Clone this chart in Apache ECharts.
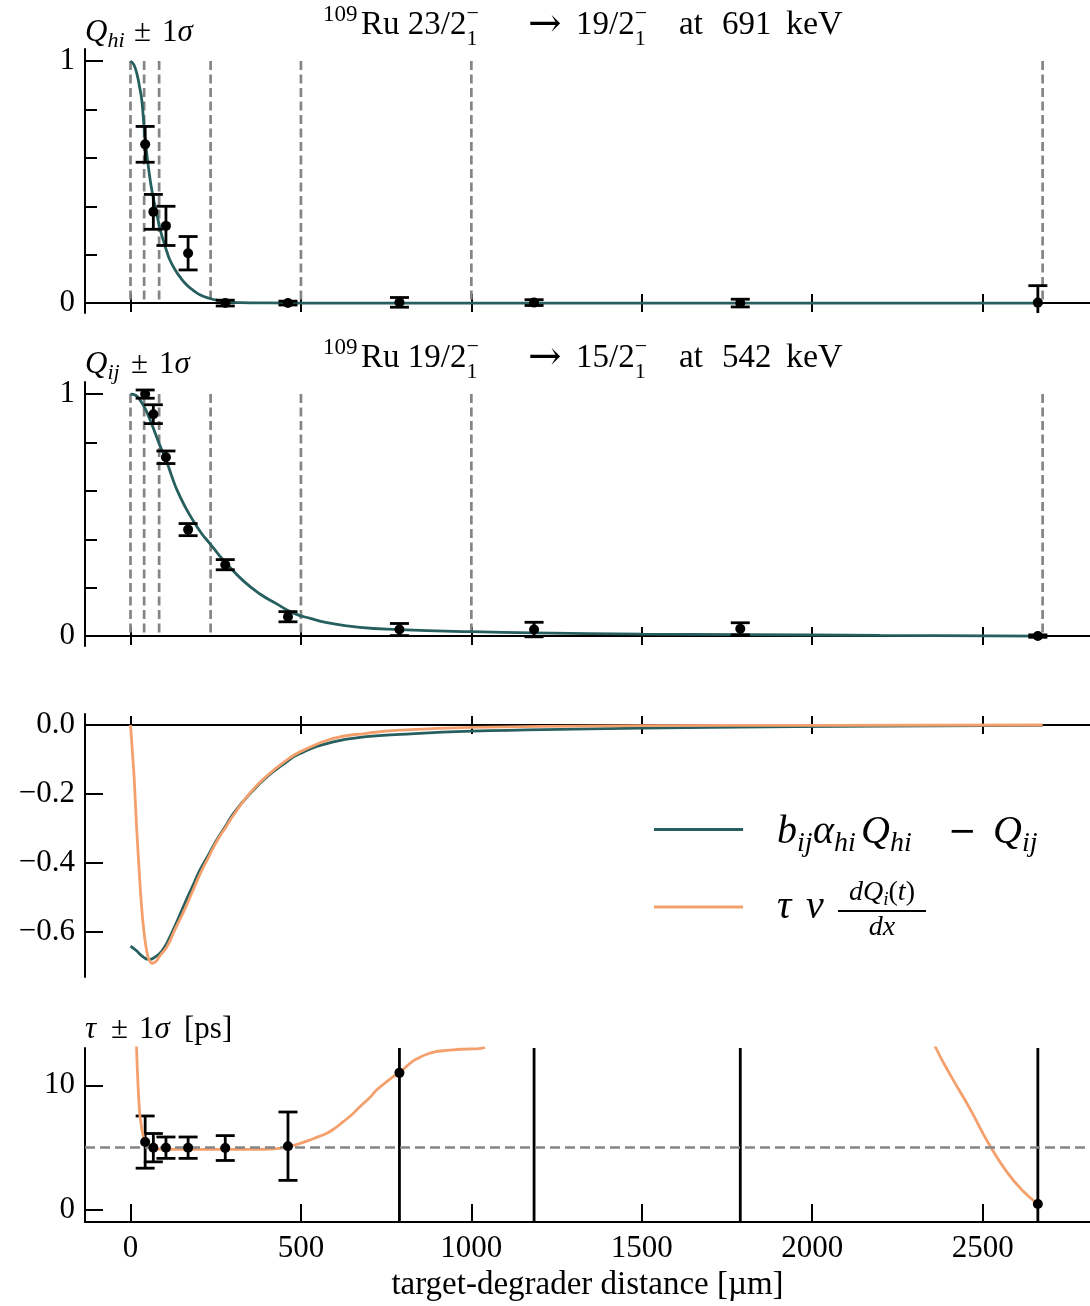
<!DOCTYPE html>
<html><head><meta charset="utf-8">
<script src="https://cdn.jsdelivr.net/npm/echarts@6/dist/echarts.min.js"></script>
<style>html,body{margin:0;padding:0;background:#fff}#c{width:1090px;height:1306px}</style>
</head><body><div id="c"></div>
<script>
// ---------------- data ----------------
const distances = [43, 67, 104, 169, 278, 462, 789, 1184, 1789, 2662];
const qhiValues = [0.656, 0.377, 0.319, 0.206, 0.0, 0.0, 0.003, 0.002, 0.0, 0.002];
const qhiErrors = [0.074, 0.072, 0.081, 0.069, 0.012, 0.008, 0.02, 0.012, 0.016, 0.07];
const qijValues = [1.0, 0.917, 0.739, 0.44, 0.295, 0.08, 0.027, 0.027, 0.03, 0.0];
const qijErrors = [0.017, 0.039, 0.026, 0.025, 0.021, 0.021, 0.025, 0.03, 0.025, 0.005];
const tauValues = [5.43, 4.98, 4.98, 4.98, 4.95, 5.1, 11.0, 30, 30, 0.45];
const tauErrors = [2.1, 1.14, 0.86, 0.86, 1.0, 2.75, 40, 60, 60, 40];
const tauMean = 5.0;
const fitBoundaries = [0, 40, 84, 235, 500, 1000, 2676];

const qhiCurveX = [0, 10, 20, 27, 33, 43, 55, 66, 77, 86, 96, 106, 116, 130, 145, 165, 184, 205, 233, 260, 282, 320, 400, 600, 1500, 2676];
const qhiCurveY = [1.0, 0.985, 0.94, 0.89, 0.84, 0.68, 0.535, 0.44, 0.37, 0.31, 0.26, 0.215, 0.177, 0.14, 0.108, 0.075, 0.053, 0.033, 0.019, 0.01, 0.005, 0.002, 0.0005, 0, 0, 0];

const qijCurveX = [0, 15, 28, 43, 57, 72, 87, 104, 120, 136, 160, 184, 208, 233, 258, 282, 331, 380, 429, 478, 530, 576, 673, 789, 1000, 1184, 1500, 1789, 2200, 2676];
const qijCurveY = [1.0, 0.995, 0.975, 0.94, 0.895, 0.84, 0.785, 0.73, 0.665, 0.605, 0.535, 0.477, 0.425, 0.382, 0.338, 0.299, 0.228, 0.174, 0.133, 0.095, 0.072, 0.056, 0.036, 0.027, 0.018, 0.013, 0.008, 0.006, 0.003, 0.0];

const diffCurveX = [0, 8, 18, 28, 38, 48, 57, 70, 87, 100, 106, 130, 155, 180, 204, 230, 253, 280, 302, 351, 400, 450, 497, 595, 693, 791, 1000, 1300, 1700, 2200, 2676];
const diffCurveY = [-0.642, -0.648, -0.656, -0.666, -0.674, -0.68, -0.681, -0.675, -0.662, -0.645, -0.635, -0.585, -0.528, -0.473, -0.421, -0.375, -0.334, -0.292, -0.257, -0.199, -0.151, -0.113, -0.083, -0.049, -0.034, -0.027, -0.018, -0.012, -0.007, -0.003, -0.001];

const derivCurveX = [0, 3, 6, 10, 15, 20, 25, 29, 34, 39, 44, 49, 55, 63, 70, 78, 88, 107, 130, 156, 180, 205, 230, 254, 280, 302, 351, 400, 450, 497, 595, 693, 790, 1000, 1500, 2000, 2676];
const derivCurveY = [0, -0.04, -0.085, -0.141, -0.24, -0.334, -0.415, -0.48, -0.545, -0.596, -0.635, -0.663, -0.683, -0.692, -0.69, -0.683, -0.668, -0.644, -0.595, -0.542, -0.488, -0.431, -0.382, -0.336, -0.296, -0.262, -0.197, -0.148, -0.108, -0.078, -0.039, -0.024, -0.015, -0.007, -0.002, -0.001, 0];

const tauCurveX = [17, 19, 21, 23, 25, 28, 31, 36, 43, 50, 57, 70, 90, 130, 200, 300, 380, 420, 462, 500, 527, 550, 576, 600, 624, 650, 673, 700, 722, 750, 771, 789, 820, 845, 869, 895, 918, 945, 967, 990, 1016, 1040, 1200,
                   2340, 2364, 2408, 2463, 2518, 2573, 2620, 2662];
const tauCurveY = [13.6, 12.0, 10.7, 9.5, 8.55, 7.5, 6.9, 6.1, 5.4, 5.15, 5.0, 4.9, 4.86, 4.85, 4.84, 4.84, 4.85, 4.88, 5.05, 5.35, 5.6, 5.85, 6.14, 6.55, 7.07, 7.65, 8.28, 8.95, 9.62, 10.25, 10.7, 11.0, 11.77, 12.2, 12.5, 12.7, 12.78, 12.85, 12.9, 12.92, 12.93, 13.05, null,
                   14.6, 12.94, 10.7, 8.1, 5.3, 2.95, 1.45, 0.45];

const xTicks = [0, 500, 1000, 1500, 2000, 2500];
const qTicks = [0, 1];
const qMinorTicks = [0.2, 0.4, 0.6, 0.8];
const diffTicks = [0, -0.2, -0.4, -0.6];
const tauTicks = [0, 10];
const xName = 'target-degrader distance [µm]';

// ---------------- styling ----------------
const TEAL = '#265f5e', ORANGE = '#f4a06d', GREY = '#858585', BLACK = '#000';
const FONT = '"Liberation Serif", "Times New Roman", serif';
const X_MIN = -133.5, X_MAX = 2815;

const mctx = document.createElement('canvas').getContext('2d');
function fstr(s, it, fam) { return (it ? 'italic ' : '') + s + 'px ' + (fam || FONT); }
function tw(t, s, it, fam) { mctx.font = fstr(s, it, fam); return mctx.measureText(t).width; }
function T(t, x, b, s, it, fam) {
  return { type: 'text', silent: true, x: x, y: b - 0.34 * s,
    style: { text: t, font: fstr(s, it, fam), fill: BLACK, align: 'left', verticalAlign: 'middle' } };
}
function pieceW(p) {
  if (p.gap != null) return p.gap;
  if (p.stack) return Math.max(...p.stack.map(q => tw(q.t, q.s, q.i, q.f)));
  return tw(p.t, p.s, p.i, p.f);
}
function mathText(x0, base, pieces, center) {
  let x = x0;
  if (center) x = x0 - pieces.reduce((a, p) => a + pieceW(p), 0) / 2;
  const out = [];
  for (const p of pieces) {
    if (p.at != null) x = p.at;
    if (p.gap != null) { x += p.gap; continue; }
    if (p.stack) {
      for (const q of p.stack) out.push(T(q.t, x, base + (q.dy || 0), q.s, q.i, q.f));
      x += pieceW(p); continue;
    }
    out.push(T(p.t, x, base + (p.dy || 0), p.s, p.i, p.f));
    x += pieceW(p);
  }
  return out;
}
function titlePieces(a, b, energy) {
  const st = { stack: [{ t: '\u2212', s: 22, dy: -15 }, { t: '1', s: 22, dy: 10 }] };
  return [
    { at: 323, t: '109', s: 23, dy: -14 },
    { at: 361, t: 'Ru ' + a, s: 33 }, st,
    { at: 528, t: '\u2192', s: 40, f: '"DejaVu Serif"', dy: 2 },
    { at: 576, t: b, s: 33 }, st,
    { at: 679, t: 'at', s: 33 },
    { at: 722, t: energy, s: 33 },
    { at: 786, t: 'keV', s: 34 }
  ];
}

const zip = (xs, ys) => xs.map((x, i) => [x, ys[i] === null ? '-' : ys[i]]);
const pts = (vals, errs) => distances.map((d, i) => [d, vals[i], errs[i]]);

function errRender(params, api) {
  const x = api.value(0), y = api.value(1), e = api.value(2);
  const cs = params.coordSys;
  const px = api.coord([x, y])[0];
  const top = api.coord([x, y + e])[1], bot = api.coord([x, y - e])[1];
  const yT = Math.max(top, cs.y), yB = Math.min(bot, cs.y + cs.height);
  const st = { stroke: BLACK, lineWidth: 2.8 };
  const ch = [];
  if (yB > yT) ch.push({ type: 'line', shape: { x1: px, y1: yT, x2: px, y2: yB }, style: st });
  const hw = 9.5;
  if (top >= cs.y && top <= cs.y + cs.height) ch.push({ type: 'line', shape: { x1: px - hw, y1: top, x2: px + hw, y2: top }, style: st });
  if (bot >= cs.y && bot <= cs.y + cs.height) ch.push({ type: 'line', shape: { x1: px - hw, y1: bot, x2: px + hw, y2: bot }, style: st });
  return { type: 'group', children: ch };
}
function vlineRender(params, api) {
  const x = api.value(0);
  const p1 = api.coord([x, 1]), p0 = api.coord([x, 0]);
  return { type: 'line', shape: { x1: p1[0], y1: p1[1], x2: p0[0], y2: p0[1] },
    style: { stroke: GREY, lineWidth: 2.7, lineDash: [9, 4.5] } };
}

const labelStyle = { color: BLACK, fontFamily: FONT, fontSize: 31 };
const tickLine = { color: BLACK, width: 2 };

function xAxisPair(gi, yIdx) {
  return [
    { type: 'value', gridIndex: gi, min: X_MIN, max: X_MAX, position: 'bottom',
      axisLine: { show: true, onZero: true, onZeroAxisIndex: yIdx, lineStyle: { color: BLACK, width: 2 } },
      axisTick: { show: true, inside: true, length: 9, lineStyle: tickLine, customValues: xTicks },
      axisLabel: { show: false }, splitLine: { show: false } },
    { type: 'value', gridIndex: gi, min: X_MIN, max: X_MAX, position: 'bottom',
      axisLine: { show: false, onZero: true, onZeroAxisIndex: yIdx },
      axisTick: { show: true, inside: false, length: 9, lineStyle: tickLine, customValues: xTicks },
      axisLabel: { show: false }, splitLine: { show: false } }
  ];
}
function yMain(gi, min, max, ticks, fmt) {
  return { type: 'value', gridIndex: gi, min, max, position: 'left',
    axisLine: { show: true, onZero: false, lineStyle: { color: BLACK, width: 2 } },
    axisTick: { show: true, inside: true, length: 18, lineStyle: tickLine, customValues: ticks },
    axisLabel: Object.assign({ show: true, margin: 10, customValues: ticks, formatter: fmt }, labelStyle),
    splitLine: { show: false } };
}
function yMinor(gi, min, max, ticks) {
  return { type: 'value', gridIndex: gi, min, max, position: 'left', offset: 0,
    axisLine: { show: false, onZero: false },
    axisTick: { show: true, inside: true, length: 12, lineStyle: tickLine, customValues: ticks },
    axisLabel: { show: false }, splitLine: { show: false } };
}

const Q_MIN = -0.041, Q_MAX = 1.05;
const qFmt = v => String(Math.round(v));
const dFmt = v => v === 0 ? '0.0' : '\u2212' + Math.abs(v).toFixed(1);

const xAxes = [
  ...xAxisPair(0, 0), ...xAxisPair(1, 2), ...xAxisPair(2, 4),
  { type: 'value', gridIndex: 3, min: X_MIN, max: X_MAX, position: 'bottom',
    axisLine: { show: true, onZero: false, lineStyle: { color: BLACK, width: 2 } },
    axisTick: { show: true, inside: true, length: 18, lineStyle: tickLine, customValues: xTicks },
    axisLabel: Object.assign({ show: true, margin: 11, customValues: xTicks, formatter: v => String(v) }, labelStyle),
    splitLine: { show: false },
    name: xName, nameLocation: 'middle', nameGap: 47,
    nameTextStyle: { color: BLACK, fontFamily: FONT, fontSize: 33 } }
];
const yAxes = [
  yMain(0, Q_MIN, Q_MAX, qTicks, qFmt), yMinor(0, Q_MIN, Q_MAX, qMinorTicks),
  yMain(1, Q_MIN, Q_MAX, qTicks, qFmt), yMinor(1, Q_MIN, Q_MAX, qMinorTicks),
  yMain(2, -0.732, 0.032, diffTicks, dFmt),
  yMain(3, -1, 13, tauTicks, qFmt)
];

const curve = (xi, yi, data, color, z) => ({
  type: 'line', xAxisIndex: xi, yAxisIndex: yi, data, showSymbol: false, symbol: 'none',
  smooth: 0.5, connectNulls: false, clip: true, z,
  lineStyle: { color, width: 2.8 }, itemStyle: { color }, animation: false, silent: true
});
const errSeries = (xi, yi, data, z) => ({
  type: 'custom', xAxisIndex: xi, yAxisIndex: yi, data, renderItem: errRender,
  encode: { x: 0, y: 1 }, z, silent: true, animation: false
});
const dotSeries = (xi, yi, data, z) => ({
  type: 'scatter', xAxisIndex: xi, yAxisIndex: yi, data: data.map(d => [d[0], d[1]]),
  symbolSize: 10, itemStyle: { color: BLACK, opacity: 1 }, z, clip: true, silent: true, animation: false
});
const boundarySeries = (xi, yi) => ({
  type: 'custom', xAxisIndex: xi, yAxisIndex: yi, data: fitBoundaries.map(b => [b, 1]),
  renderItem: vlineRender, encode: { x: 0, y: 1 }, z: 1, silent: true, animation: false
});

const qhiPts = pts(qhiValues, qhiErrors);
const qijPts = pts(qijValues, qijErrors);
const tauPts = pts(tauValues, tauErrors);

const series = [
  boundarySeries(0, 0),
  curve(0, 0, zip(qhiCurveX, qhiCurveY), TEAL, 2),
  errSeries(0, 0, qhiPts, 3),
  dotSeries(0, 0, qhiPts, 4),

  boundarySeries(2, 2),
  curve(2, 2, zip(qijCurveX, qijCurveY), TEAL, 2),
  errSeries(2, 2, qijPts, 3),
  dotSeries(2, 2, qijPts, 4),

  curve(4, 4, zip(diffCurveX, diffCurveY), TEAL, 2),
  curve(4, 4, zip(derivCurveX, derivCurveY), ORANGE, 3),

  errSeries(6, 5, tauPts, 2),
  Object.assign(curve(6, 5, zip(tauCurveX, tauCurveY), ORANGE, 3), {
    markLine: { silent: true, symbol: 'none', animation: false, label: { show: false },
      lineStyle: { color: GREY, width: 2.7, type: [10, 5] }, data: [{ yAxis: tauMean }] }
  }),
  dotSeries(6, 5, tauPts, 5)
];

// ---------------- text (titles, axis names, legend) ----------------
const graphics = [];
graphics.push(...mathText(0, 37, titlePieces('23/2', '19/2', '691')));
graphics.push(...mathText(0, 370, titlePieces('19/2', '15/2', '542')));
graphics.push(...mathText(0, 43, [
  { at: 85, t: 'Q', s: 31, i: true }, { t: 'hi', s: 22, i: true, dy: 6 },
  { at: 134, t: '\u00b1', s: 31 }, { at: 162, t: '1', s: 31 }, { t: '\u03c3', s: 31, i: true }
]));
graphics.push(...mathText(0, 375, [
  { at: 85, t: 'Q', s: 31, i: true }, { t: 'ij', s: 22, i: true, dy: 6 },
  { at: 131, t: '\u00b1', s: 31 }, { at: 159, t: '1', s: 31 }, { t: '\u03c3', s: 31, i: true }
]));
graphics.push(...mathText(0, 1040, [
  { at: 85, t: '\u03c4', s: 31, i: true },
  { at: 111, t: '\u00b1', s: 31 }, { at: 139, t: '1', s: 31 }, { t: '\u03c3', s: 31, i: true },
  { at: 184, t: '[ps]', s: 31 }
]));
// legend
graphics.push({ type: 'line', silent: true, shape: { x1: 654, y1: 829.5, x2: 743, y2: 829.5 }, style: { stroke: TEAL, lineWidth: 3 } });
graphics.push({ type: 'line', silent: true, shape: { x1: 654, y1: 907, x2: 743, y2: 907 }, style: { stroke: ORANGE, lineWidth: 3 } });
graphics.push(...mathText(0, 846, [
  { at: 777, t: 'b', s: 40, i: true }, { t: 'ij', s: 28, i: true, dy: 7 },
  { at: 813, t: '\u03b1', s: 40, i: true }, { t: 'hi', s: 28, i: true, dy: 7 },
  { at: 861, t: 'Q', s: 40, i: true }, { t: 'hi', s: 28, i: true, dy: 7 },
  { at: 948, t: '\u2212', s: 34, f: '"DejaVu Sans"', dy: -1 },
  { at: 993, t: 'Q', s: 40, i: true }, { t: 'ij', s: 28, i: true, dy: 7 }
]));
graphics.push(...mathText(0, 921, [
  { at: 777, t: '\u03c4', s: 40, i: true }, { at: 806, t: 'v', s: 40, i: true }
]));
graphics.push(...mathText(882, 902, [
  { t: 'dQ', s: 28, i: true }, { t: 'i', s: 19, i: true, dy: 4 },
  { t: '(', s: 28 }, { t: 't', s: 28, i: true }, { t: ')', s: 28 }
], true));
graphics.push({ type: 'line', silent: true, shape: { x1: 838, y1: 911, x2: 926, y2: 911 }, style: { stroke: BLACK, lineWidth: 2 } });
graphics.push(...mathText(882, 937, [{ t: 'dx', s: 28, i: true }], true));

const chart = echarts.init(document.getElementById('c'), null, { renderer: 'canvas' });
chart.setOption({
  backgroundColor: '#fff',
  animation: false,
  grid: [
    { left: 85, right: 0, top: 49, height: 264, containLabel: false, outerBoundsMode: 'none' },
    { left: 85, right: 0, top: 382, height: 264, containLabel: false, outerBoundsMode: 'none' },
    { left: 85, right: 0, top: 714, height: 263, containLabel: false, outerBoundsMode: 'none' },
    { left: 85, right: 0, top: 1048, height: 174, containLabel: false, outerBoundsMode: 'none' }
  ],
  xAxis: xAxes,
  yAxis: yAxes,
  series,
  graphic: graphics
});
</script>
</body></html>
